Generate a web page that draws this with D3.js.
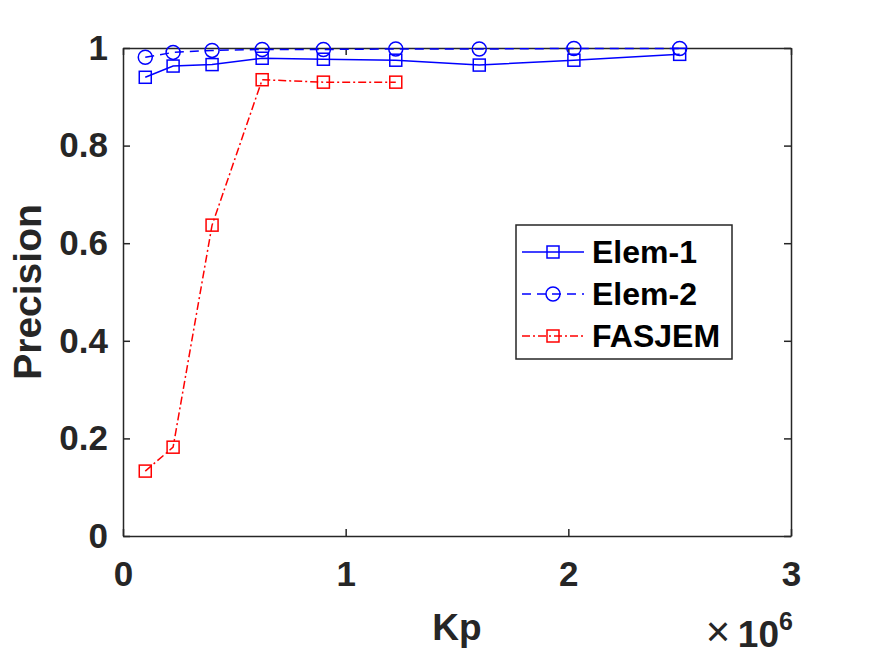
<!DOCTYPE html>
<html>
<head>
<meta charset="utf-8">
<script src="https://cdn.jsdelivr.net/npm/d3@7"></script>
<style>
  body { margin: 0; background: #fff; }
  svg { display: block; font-family: "Liberation Sans", Arial, sans-serif; }
</style>
</head>
<body>
<svg id="chart" width="875" height="656"></svg>
<script>
// Kp values (x) and precision of each method
const kpValues = [0.1e6, 0.225e6, 0.4e6, 0.625e6, 0.9e6, 1.225e6, 1.6e6, 2.025e6, 2.5e6];
const elem1 = [0.940, 0.963, 0.966, 0.979, 0.977, 0.975, 0.965, 0.975, 0.987];
const elem2 = [0.981, 0.991, 0.995, 0.997, 0.997, 0.998, 0.998, 0.999, 0.999];
const fasjem = [0.133, 0.182, 0.637, 0.935, 0.930, 0.930];
const seriesNames = ["Elem-1", "Elem-2", "FASJEM"];
const xTicks = [0, 1e6, 2e6, 3e6];
const yTicks = [0, 0.2, 0.4, 0.6, 0.8, 1];

const margin = {left: 123, right: 84, top: 48, bottom: 120};
const width = 875 - margin.left - margin.right;
const height = 656 - margin.top - margin.bottom;
const axisColor = "#262626";

const svg = d3.select("#chart");
const g = svg.append("g").attr("transform", `translate(${margin.left},${margin.top})`);

const x = d3.scaleLinear().domain([0, 3e6]).range([0, width]);
const y = d3.scaleLinear().domain([0, 1]).range([height, 0]);

function styleAxis(sel) {
  sel.selectAll("path, line").attr("stroke", axisColor).attr("stroke-width", 1.5);
  sel.selectAll("text").attr("fill", axisColor).attr("font-weight", "bold")
     .attr("font-size", 35).attr("font-family", "Liberation Sans, Arial, sans-serif");
}

// box axes with inward ticks
g.append("g").attr("transform", `translate(0,${height})`)
  .call(d3.axisBottom(x).tickValues(xTicks).tickFormat(d => d / 1e6).tickSizeInner(-7).tickSizeOuter(0).tickPadding(25))
  .call(styleAxis);
g.append("g")
  .call(d3.axisTop(x).tickValues(xTicks).tickFormat("").tickSizeInner(-7).tickSizeOuter(0))
  .call(styleAxis);
g.append("g")
  .call(d3.axisLeft(y).tickValues(yTicks).tickFormat(d => d).tickSizeInner(-7).tickSizeOuter(0).tickPadding(15))
  .call(styleAxis);
g.append("g").attr("transform", `translate(${width},0)`)
  .call(d3.axisRight(y).tickValues(yTicks).tickFormat("").tickSizeInner(-7).tickSizeOuter(0))
  .call(styleAxis);

// series
const series = [
  {name: seriesNames[0], values: elem1, color: "#0000ff", dash: null, marker: "square"},
  {name: seriesNames[1], values: elem2, color: "#0000ff", dash: "9,6", marker: "circle"},
  {name: seriesNames[2], values: fasjem, color: "#ff0000", dash: "8,3,2,3", marker: "square"}
];

const line = d3.line().x(d => x(d[0])).y(d => y(d[1]));

function drawMarker(sel, type, color) {
  if (type === "square") {
    sel.append("rect").attr("x", -6).attr("y", -6).attr("width", 12).attr("height", 12)
      .attr("fill", "none").attr("stroke", color).attr("stroke-width", 1.5);
  } else {
    sel.append("circle").attr("r", 7)
      .attr("fill", "none").attr("stroke", color).attr("stroke-width", 1.5);
  }
}

series.forEach(s => {
  const pts = s.values.map((v, i) => [kpValues[i], v]);
  g.append("path").datum(pts).attr("d", line)
    .attr("fill", "none").attr("stroke", s.color).attr("stroke-width", 1.5)
    .attr("stroke-dasharray", s.dash);
  g.selectAll(null).data(pts).enter().append("g")
    .attr("transform", d => `translate(${x(d[0])},${y(d[1])})`)
    .each(function () { drawMarker(d3.select(this), s.marker, s.color); });
});

// axis labels
svg.append("text").attr("x", margin.left + width / 2).attr("y", 640)
  .attr("text-anchor", "middle").attr("font-size", 37).attr("font-weight", "bold")
  .attr("fill", axisColor).text("Kp");
svg.append("text").attr("transform", `translate(41,${margin.top + height / 2}) rotate(-90)`)
  .attr("text-anchor", "middle").attr("font-size", 39).attr("font-weight", "bold")
  .attr("fill", axisColor).text("Precision");

// exponent label (x10^6)
const ex = margin.left + width;
svg.append("text").attr("x", ex - 73).attr("y", 646).attr("text-anchor", "middle")
  .attr("font-size", 42).attr("fill", axisColor).text("\u00d7");
svg.append("text").attr("x", ex - 12).attr("y", 647).attr("text-anchor", "end")
  .attr("font-size", 37).attr("font-weight", "bold").attr("fill", axisColor).text("10");
svg.append("text").attr("x", ex - 12).attr("y", 630).attr("text-anchor", "start")
  .attr("font-size", 25).attr("font-weight", "bold").attr("fill", axisColor).text("6");

// legend
const lg = svg.append("g").attr("transform", "translate(516,225)");
lg.append("rect").attr("width", 216).attr("height", 134)
  .attr("fill", "#fff").attr("stroke", axisColor).attr("stroke-width", 1.5);
series.forEach((s, i) => {
  const row = lg.append("g").attr("transform", `translate(0,${27 + i * 42})`);
  row.append("line").attr("x1", 6).attr("x2", 68).attr("y1", 0).attr("y2", 0)
    .attr("stroke", s.color).attr("stroke-width", 1.5).attr("stroke-dasharray", s.dash);
  const m = row.append("g").attr("transform", "translate(37,0)");
  drawMarker(m, s.marker, s.color);
  row.append("text").attr("x", 76).attr("y", 11).attr("font-size", 32)
    .attr("font-weight", "bold").attr("fill", "#000").text(s.name);
});
</script>
</body>
</html>
